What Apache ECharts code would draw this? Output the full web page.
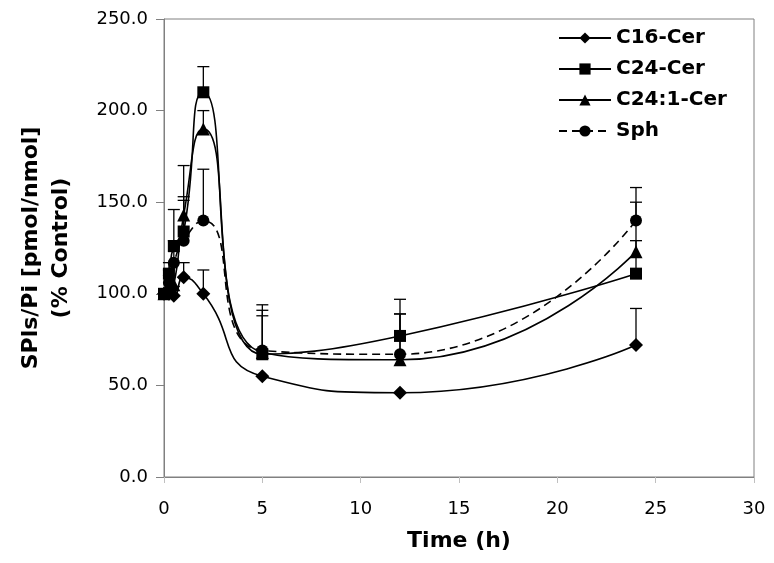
<!DOCTYPE html>
<html>
<head>
<meta charset="utf-8">
<script src="https://cdn.jsdelivr.net/npm/echarts@6/dist/echarts.min.js"></script>
<style>
  html, body { margin: 0; padding: 0; background: #fff; }
  #chart { width: 774px; height: 563px; }
</style>
</head>
<body>
<div id="chart"></div>
<script>
// sampling times (h)
const times = [0, 0.25, 0.5, 1, 2, 5, 12, 24];

// % of control, with the upward error (SD) for each point
const c16 = [100, 100, 99, 109, 100, 55, 46, 72];
const c16Err = [0, 3, 5, 8, 13, 0, 0, 20];
const c24 = [100, 111, 126, 134, 210, 67, 77, 111];
const c24Err = [0, 6, 20, 36, 14, 27, 20, 18];
const c241 = [100, 103, 105, 143, 190, 68, 64, 123];
const c241Err = [0, 10, 12, 10, 10, 20, 25, 27];
const sph = [100, 106, 117, 129, 140, 69, 67, 140];
const sphErr = [0, 4, 12, 22, 28, 22, 22, 18];

const seriesNames = ['C16-Cer', 'C24-Cer', 'C24:1-Cer', 'Sph'];
const yTicks = [0, 50, 100, 150, 200, 250];

const font = 'DejaVu Sans, Verdana, sans-serif';
const chart = echarts.init(document.getElementById('chart'));

function pts(vals) {
  return times.map((t, i) => [t, vals[i]]);
}

function errData(vals, errs) {
  return times.map((t, i) => [t, vals[i], vals[i] + errs[i]]);
}

function errorBars(params, api) {
  const x = api.value(0);
  const lo = api.value(1);
  const hi = api.value(2);
  if (hi <= lo) return null;
  const p0 = api.coord([x, lo]);
  const p1 = api.coord([x, hi]);
  const st = { stroke: '#000', lineWidth: 1.3 };
  return {
    type: 'group',
    children: [
      { type: 'line', shape: { x1: p0[0], y1: p0[1], x2: p1[0], y2: p1[1] }, style: st },
      { type: 'line', shape: { x1: p1[0] - 6, y1: p1[1], x2: p1[0] + 6, y2: p1[1] }, style: st }
    ]
  };
}

function lineSeries(name, vals, symbol, size, dashed) {
  return {
    name: name,
    type: 'line',
    data: pts(vals),
    smooth: 0.55,
    symbol: symbol,
    symbolSize: size,
    showAllSymbol: true,
    z: 3,
    itemStyle: { color: '#000' },
    lineStyle: { color: '#000', width: 1.6, type: dashed ? [8, 5] : 'solid' }
  };
}

function errSeries(vals, errs) {
  return {
    type: 'custom',
    renderItem: errorBars,
    data: errData(vals, errs),
    encode: { x: 0, y: [1, 2] },
    silent: true,
    z: 2
  };
}

const option = {
  animation: false,
  backgroundColor: '#fff',
  grid: {
    left: 164, right: 20, top: 19, bottom: 86,
    show: true, borderColor: '#808080', borderWidth: 1
  },
  legend: {
    data: seriesNames,
    orient: 'vertical',
    left: 553,
    top: 23,
    itemWidth: 52,
    itemHeight: 14,
    itemGap: 11,
    textStyle: { fontFamily: font, fontWeight: 'bold', fontSize: 20, color: '#000' }
  },
  xAxis: {
    type: 'value',
    min: 0, max: 30, interval: 5,
    name: 'Time (h)',
    nameLocation: 'middle',
    nameGap: 53,
    nameTextStyle: { fontFamily: font, fontWeight: 'bold', fontSize: 22, color: '#000' },
    axisLine: { lineStyle: { color: '#808080' } },
    axisTick: { show: true, length: 6, lineStyle: { color: '#c0c0c0' } },
    axisLabel: { fontFamily: font, fontSize: 18, color: '#000', margin: 23 },
    splitLine: { show: false }
  },
  yAxis: {
    type: 'value',
    min: 0, max: 250, interval: 50,
    name: 'SPls/Pi [pmol/nmol]\n(% Control)',
    nameLocation: 'middle',
    nameGap: 88,
    nameTextStyle: { fontFamily: font, fontWeight: 'bold', fontSize: 22, color: '#000', lineHeight: 30 },
    axisLine: { show: true, lineStyle: { color: '#808080' } },
    axisTick: { show: true, length: 8, lineStyle: { color: '#808080' } },
    axisLabel: {
      fontFamily: font, fontSize: 18, color: '#000', margin: 16,
      formatter: v => yTicks.includes(v) ? v.toFixed(1) : ''
    },
    splitLine: { show: false }
  },
  series: [
    errSeries(c16, c16Err),
    errSeries(c24, c24Err),
    errSeries(c241, c241Err),
    errSeries(sph, sphErr),
    lineSeries('C16-Cer', c16, 'diamond', 14, false),
    lineSeries('C24-Cer', c24, 'rect', 12, false),
    lineSeries('C24:1-Cer', c241, 'triangle', 13, false),
    lineSeries('Sph', sph, 'circle', 12, true)
  ]
};

chart.setOption(option);
</script>
</body>
</html>
